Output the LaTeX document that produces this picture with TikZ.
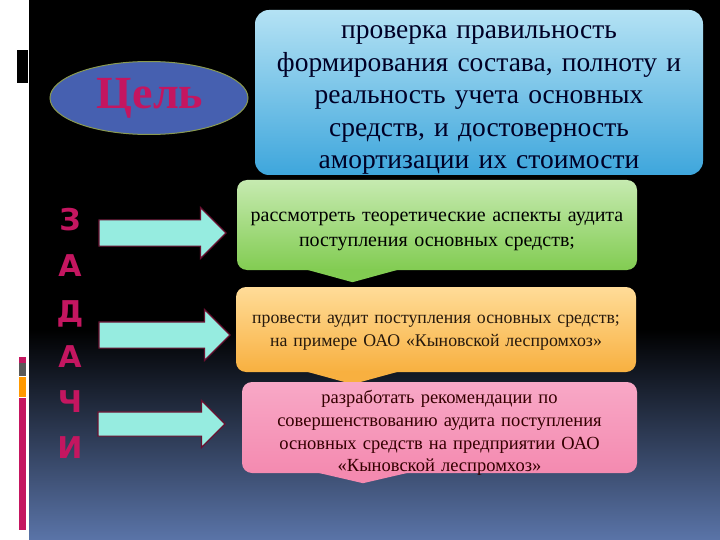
\documentclass[tikz,border=0pt]{standalone}
\usepackage{fontspec}
\setmainfont{Liberation Serif}
\newfontfamily\letterfont{DejaVu Sans}
\usetikzlibrary{shapes.geometric,shapes.arrows}

\definecolor{goalfill}{HTML}{4660B0}
\definecolor{goalline}{HTML}{8A9A50}
\definecolor{crimson}{HTML}{C41660}
\definecolor{arrowfill}{HTML}{96ECE0}
\definecolor{arrowline}{HTML}{6A1030}
\definecolor{skyhi}{HTML}{B4E2F4}
\definecolor{skylo}{HTML}{3EA6DC}
\definecolor{greenhi}{HTML}{C6EAB0}
\definecolor{greenlo}{HTML}{82CC52}
\definecolor{orangehi}{HTML}{FFDC98}
\definecolor{orangelo}{HTML}{F8B040}
\definecolor{pinkhi}{HTML}{F8A8C6}
\definecolor{pinkmid}{HTML}{F0448A}
\definecolor{pinklo}{HTML}{F48AB0}
\definecolor{bgblue}{HTML}{5A74A8}

\tikzset{
  taskbox/.style={rounded corners=10pt,minimum width=400pt,inner sep=0pt},
  tasktext/.style={align=center,text width=390pt,inner sep=0pt},
  blockarrow/.style={single arrow,draw=arrowline,fill=arrowfill,line width=1.2pt,
    minimum width=50pt,single arrow head extend=12.5pt,inner xsep=0pt,inner ysep=12.5pt,
    minimum height=127pt},
  letter/.style={anchor=base,text=crimson,font=\letterfont\bfseries\fontsize{30}{30}\selectfont}
}

\begin{document}
\begin{tikzpicture}[x=1pt,y=-1pt]
\useasboundingbox (0,0) rectangle (720,540);
% background
\fill[white] (0,0) rectangle (29,540);
\fill[black] (29,0) rectangle (720,330);
\shade[top color=black,bottom color=bgblue] (29,329) rectangle (720,540);
\fill[black] (17,50) rectangle (28,83);
\fill[crimson] (19,357) rectangle (26,363);
\fill[gray!70!black] (19,363) rectangle (26,376);
\fill[orange!80!yellow] (19,377) rectangle (26,397);
\fill[crimson] (19,398) rectangle (26,530);

% goal
\node[ellipse,draw=goalline,fill=goalfill,line width=1pt,minimum width=198pt,
  minimum height=73pt] (goal) at (149,98) {};
\node[text=crimson,font=\bfseries\fontsize{46}{46}\selectfont] (goaltext) at (150,98) {Цель};
\node[rounded corners=14pt,top color=skyhi,bottom color=skylo,minimum width=448pt,
  minimum height=165pt,inner sep=0pt] (aim) at (479,92.5) {};
\node[align=center,text width=440pt,inner sep=0pt,text=black!85!blue,
  font=\fontsize{27.5}{32.5}\selectfont] (aimtext) at (479,100)
  {проверка правильность\\формирования состава, полноту и\\реальность учета основных\\средств, и достоверность\\амортизации их стоимости};

% tasks
\node[taskbox,top color=greenhi,bottom color=greenlo,minimum height=90pt] (t1) at (437,225) {};
\fill[greenlo] (t1.south) ++(-132,-1) -- ++(95,0) -- ++(-47.5,13) -- cycle;
\node[tasktext,font=\fontsize{20}{25}\selectfont] (t1text) at (437,231)
  {рассмотреть теоретические аспекты аудита\\поступления основных средств;};
\node[taskbox,top color=orangehi,bottom color=orangelo,minimum height=85pt] (t2) at (436,329.5) {};
\fill[orangelo] (t2.south) ++(-131,-1) -- ++(95,0) -- ++(-47.5,13) -- cycle;
\node[tasktext,text=black!80!brown,font=\fontsize{17.8}{23}\selectfont] (t2text) at (436,333)
  {провести аудит поступления основных средств;\\на примере ОАО «Кыновской леспромхоз»};
\node[taskbox,top color=pinkhi,middle color=pinkmid,bottom color=pinklo,minimum width=395pt,
  minimum height=91pt] (t3) at (439.5,427.5) {};
\fill[pinklo] (t3.south) ++(-124,-1) -- ++(95,0) -- ++(-47.5,11) -- cycle;
\node[tasktext,text=black!80!red,font=\fontsize{18.5}{22.7}\selectfont] (t3text) at (439.5,433)
  {разработать рекомендации по\\совершенствованию аудита поступления\\основных средств на предприятии ОАО\\«Кыновской леспромхоз»};

% arrows
\node[blockarrow] (a1) at (156,233) {};
\node[blockarrow,minimum height=131pt] (a2) at (158,335) {};
\node[blockarrow,minimum width=46pt,single arrow head extend=11.5pt,inner ysep=11.5pt] (a3) at (155.5,424) {};

% letters
\foreach \ch/\y [count=\n] in {З/230,А/276,Д/322,А/367,Ч/412,И/458}
  \node[letter] (l\n) at (70,\y) {\ch};
\end{tikzpicture}
\end{document}
